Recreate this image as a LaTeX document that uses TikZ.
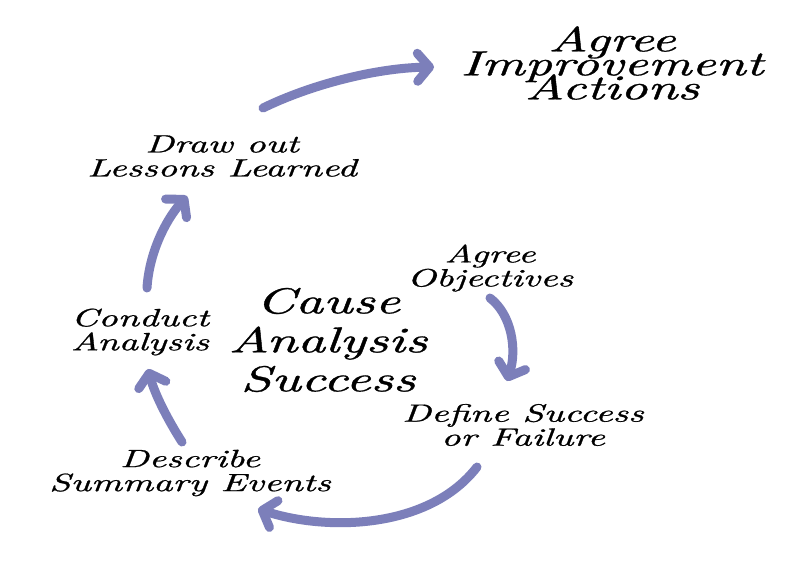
\documentclass[tikz,border=0pt]{standalone}
\usepackage{fontspec}
\newfontfamily\hand{lmroman10-italic.otf}[FakeBold=0.8]
\usetikzlibrary{arrows.meta}
\definecolor{arrowblue}{RGB}{124,127,186}
\tikzset{
  wide/.style={xscale=1.52, transform shape},
  lbl/.style={font=\hand\fontsize{25}{24}\selectfont, align=center, inner sep=0pt},
  big/.style={font=\hand\fontsize{36}{39}\selectfont, align=center, inner sep=0pt},
  ttl/.style={font=\hand\fontsize{35}{24}\selectfont, align=center, inner sep=0pt},
  flow/.style={draw=arrowblue, line width=9pt, line cap=round,
    -{Straight Barb[length=12pt,width=28pt,round]}},
}
\begin{document}
\lineskiplimit=-100pt
\begin{tikzpicture}[x=1pt,y=-1pt]
\useasboundingbox (0,0) rectangle (800,568);
\fill[white] (0,0) rectangle (800,568);
\begin{scope}[shift={(612,63)},wide]
  \node[ttl] (act) {Agree\\Improvement\\Actions};
\end{scope}
\begin{scope}[shift={(222,156)},wide]
  \node[lbl] (lessons) {Draw out\\Lessons Learned};
\end{scope}
\begin{scope}[shift={(490,268)},wide]
  \node[lbl] (obj) {Agree\\Objectives};
\end{scope}
\begin{scope}[shift={(328,340)},wide]
  \node[big] (cause) {Cause\\Analysis\\Success};
\end{scope}
\begin{scope}[shift={(140,332)},wide]
  \node[lbl] (cond) {Conduct\\Analysis};
\end{scope}
\begin{scope}[shift={(523,425)},wide]
  \node[lbl] (def) {Define Success\\or Failure};
\end{scope}
\begin{scope}[shift={(190,473)},wide]
  \node[lbl] (desc) {Describe\\Summary Events};
\end{scope}
\coordinate (a1s) at (263,108);
\coordinate (a1e) at (434,67);
\coordinate (a2s) at (490,298);
\coordinate (a2e) at (507,381);
\coordinate (a3s) at (477,467);
\coordinate (a3e) at (258,509);
\coordinate (a4s) at (182,442);
\coordinate (a4e) at (148,369);
\coordinate (a5s) at (147,288);
\coordinate (a5e) at (187,196);
\draw[flow] (a1s) .. controls (310,85) and (375,68) .. (a1e);
\draw[flow] (a2s) .. controls (512,315) and (517,350) .. (a2e);
\draw[flow] (a3s) .. controls (430,528) and (330,532) .. (a3e);
\draw[flow] (a4s) .. controls (168,420) and (155,395) .. (a4e);
\draw[flow] (a5s) .. controls (149,255) and (164,222) .. (a5e);
\end{tikzpicture}
\end{document}
